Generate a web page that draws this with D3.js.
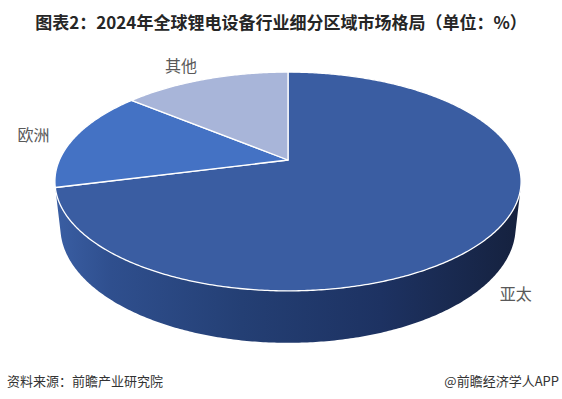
<!DOCTYPE html>
<html>
<head>
<meta charset="utf-8">
<script src="https://cdn.jsdelivr.net/npm/d3@7/dist/d3.min.js"></script>
<style>
  html, body { margin: 0; padding: 0; background: #ffffff; }
  svg { display: block; }
</style>
</head>
<body>
<script>
// 2024 global lithium-battery equipment market, share by region (%)
const categories = ["亚太", "欧洲", "其他"];
const shares = [71, 15, 14];
const sliceColors = ["#3A5DA2", "#4472C4", "#A8B5D9"];

const titleText = "图表2：2024年全球锂电设备行业细分区域市场格局（单位：%）";
const sourceText = "资料来源：前瞻产业研究院";
const brandText = "@前瞻经济学人APP";

const W = 562, H = 399;
const svg = d3.select("body").append("svg")
  .attr("width", W).attr("height", H)
  .attr("viewBox", `0 0 ${W} ${H}`);

// Perspective camera looking down on a unit disk (radius 1, thickness `depth`)
const cam = { cx: 288, cy: 160, f: 1033, dist: 4.52, tilt: 27.4 * Math.PI / 180, depth: 0.2265 };
const ca = Math.cos(cam.tilt), sa = Math.sin(cam.tilt);
function project(u, v, w) {
  const zc = cam.dist - v * ca - w * sa;
  return [cam.cx + cam.f * u / zc, cam.cy + cam.f * (v * sa - w * ca) / zc];
}
// angle measured clockwise from 12 o'clock (far side)
const rim = (a, r = 1, w = 0) => project(r * Math.sin(a), -r * Math.cos(a), w);

const pie = d3.pie().sort(null).value(d => d)(shares);
const line = d3.line();

function arcPoints(a0, a1, w) {
  const n = Math.max(2, Math.ceil(Math.abs(a1 - a0) / 0.01));
  return d3.range(n + 1).map(i => rim(a0 + (a1 - a0) * i / n, 1, w));
}

// outer wall is visible where the tangent from the camera allows it
const vis = Math.acos(-1 / (cam.dist * ca));
const visLo = vis, visHi = 2 * Math.PI - vis;

const defs = svg.append("defs");
const wallGrad = defs.append("linearGradient")
  .attr("id", "wallGrad").attr("gradientUnits", "userSpaceOnUse")
  .attr("x1", rim(visHi)[0]).attr("x2", rim(visLo)[0])
  .attr("y1", 0).attr("y2", 0);
[[0, "#3A5EA3"], [0.12, "#2F4F8E"], [0.4, "#243F74"], [0.7, "#1D3262"], [1, "#15213E"]]
  .forEach(([o, c]) => wallGrad.append("stop").attr("offset", o).attr("stop-color", c));

const chart = svg.append("g");

// side walls
pie.forEach((s, i) => {
  const a0 = Math.max(s.startAngle, visLo), a1 = Math.min(s.endAngle, visHi);
  if (a1 <= a0) return;
  const top = arcPoints(a0, a1, 0);
  const bottom = arcPoints(a1, a0, -cam.depth);
  chart.append("path")
    .attr("d", line(top.concat(bottom)) + "Z")
    .attr("fill", "url(#wallGrad)");
});

// top faces
pie.forEach((s, i) => {
  const pts = [project(0, 0, 0)].concat(arcPoints(s.startAngle, s.endAngle, 0));
  chart.append("path")
    .attr("d", line(pts) + "Z")
    .attr("fill", sliceColors[i])
    .attr("stroke", "#ffffff")
    .attr("stroke-width", 1.3)
    .attr("stroke-linejoin", "round");
});

// category labels outside each slice
pie.forEach((s, i) => {
  const mid = (s.startAngle + s.endAngle) / 2;
  const u = Math.sin(mid), v = -Math.cos(mid);
  const [x, y] = rim(mid, 1.12, v > 0 ? -cam.depth : 0);
  svg.append("text")
    .attr("x", x).attr("y", y - 7 * Math.max(0, -v))
    .attr("text-anchor", u < -0.3 ? "end" : "middle")
    .attr("dominant-baseline", "central")
    .attr("font-family", "'Noto Sans CJK SC', sans-serif")
    .attr("font-size", 16)
    .attr("fill", "#595959")
    .text(categories[i]);
});

// title
svg.append("text")
  .attr("x", W / 2).attr("y", 21.5)
  .attr("text-anchor", "middle")
  .attr("dominant-baseline", "central")
  .attr("font-family", "'Noto Sans CJK SC', sans-serif")
  .attr("font-weight", "bold")
  .attr("font-size", 17)
  .attr("fill", "#262626")
  .text(titleText);

// footer
svg.append("text")
  .attr("x", 7).attr("y", 380)
  .attr("dominant-baseline", "central")
  .attr("font-family", "'Noto Sans CJK SC', sans-serif")
  .attr("font-size", 13)
  .attr("fill", "#333333")
  .text(sourceText);
svg.append("text")
  .attr("x", 559).attr("y", 380)
  .attr("text-anchor", "end")
  .attr("dominant-baseline", "central")
  .attr("font-family", "'Noto Sans CJK SC', sans-serif")
  .attr("font-size", 13)
  .attr("fill", "#333333")
  .text(brandText);
</script>
</body>
</html>
